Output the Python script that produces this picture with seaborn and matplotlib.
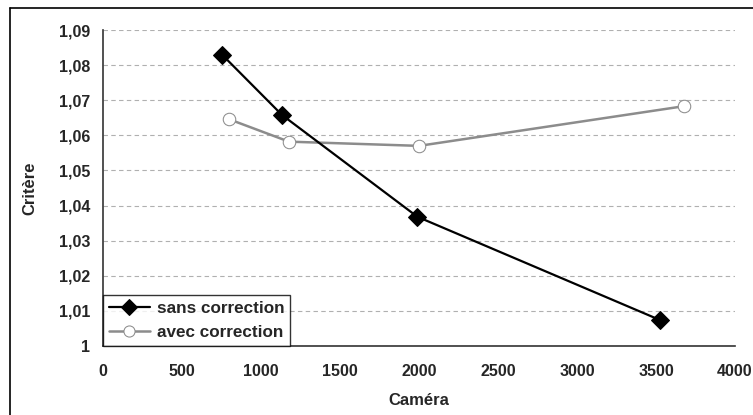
import matplotlib
matplotlib.use("Agg")
import matplotlib.pyplot as plt
import seaborn as sns
import pandas as pd
from matplotlib.ticker import FuncFormatter, MultipleLocator
from matplotlib.lines import Line2D

cam_sans = [753, 1133, 1990, 3525]
crit_sans = [1.083, 1.0658, 1.0368, 1.0074]
cam_avec = [797, 1177, 2000, 3677]
crit_avec = [1.0646, 1.0582, 1.057, 1.0683]
series_names = ["sans correction", "avec correction"]

sns.set_theme(style="white")
plt.rcParams['font.family'] = ['Liberation Sans', 'DejaVu Sans']

fig = plt.figure(figsize=(7.53, 4.15), dpi=100)
fig.patch.set_facecolor("white")
# outer chart border (only left and top edges visible in the image)
W, H = 753.0, 415.0
fig.add_artist(Line2D([9.5 / W, 9.5 / W], [0, 1 - 8 / H], transform=fig.transFigure,
                      color="black", linewidth=1.2))
fig.add_artist(Line2D([9.5 / W, 1], [1 - 8 / H, 1 - 8 / H], transform=fig.transFigure,
                      color="black", linewidth=1.2))

ax = fig.add_axes([103 / W, 1 - 346 / H, 632 / W, 316 / H])

df_sans = pd.DataFrame({"x": cam_sans, "y": crit_sans})
df_avec = pd.DataFrame({"x": cam_avec, "y": crit_avec})

sns.lineplot(data=df_sans, x="x", y="y", ax=ax, color="black", linewidth=1.6,
             marker="D", markersize=9, markerfacecolor="black", markeredgecolor="black",
             label=series_names[0], sort=False, zorder=4)
sns.lineplot(data=df_avec, x="x", y="y", ax=ax, color="#8c8c8c", linewidth=1.8,
             marker="o", markersize=9, markerfacecolor="white", markeredgecolor="#8c8c8c",
             label=series_names[1], sort=False, zorder=3)

ax.set_xlim(0, 4000)
ax.set_ylim(1.0, 1.09)
ax.xaxis.set_major_locator(MultipleLocator(500))
ax.yaxis.set_major_locator(MultipleLocator(0.01))

def yfmt(v, pos):
    s = f"{v:.2f}".rstrip("0").rstrip(".")
    return s.replace(".", ",")
ax.yaxis.set_major_formatter(FuncFormatter(yfmt))

ax.grid(axis="y", color="#b0b0b0", linestyle=(0, (4, 3)), linewidth=0.8)
ax.set_axisbelow(True)
for s in ["top", "right"]:
    ax.spines[s].set_visible(False)
for s in ["left", "bottom"]:
    ax.spines[s].set_color("#333333")
    ax.spines[s].set_linewidth(1.2)
ax.tick_params(axis="both", direction="out", length=5, width=1, color="#333333",
               labelsize=11.5)
ax.tick_params(axis="x", pad=8)
ax.tick_params(axis="y", pad=4)
for lab in ax.get_xticklabels() + ax.get_yticklabels():
    lab.set_fontweight("bold")

ax.set_xlabel("Caméra", fontsize=12, fontweight="bold")
ax.set_ylabel("Critère", fontsize=12, fontweight="bold")
ax.xaxis.set_label_coords(0.5, (346 - 400) / 316)
ax.xaxis.label.set_va("center")
ax.yaxis.set_label_coords((30 - 103) / 632, 0.5)
ax.yaxis.label.set_va("center")

leg = ax.legend(loc="lower left", bbox_to_anchor=(0, 0), borderaxespad=0,
                frameon=True, fancybox=False, edgecolor="black",
                prop={"weight": "bold", "size": 12.3}, handlelength=2.4,
                handletextpad=0.4, borderpad=0.35, labelspacing=0.55)
leg.get_frame().set_linewidth(1.0)
for h in leg.legend_handles:
    h.set_markersize(8)

fig.savefig("out.png", dpi=100, facecolor="white")
